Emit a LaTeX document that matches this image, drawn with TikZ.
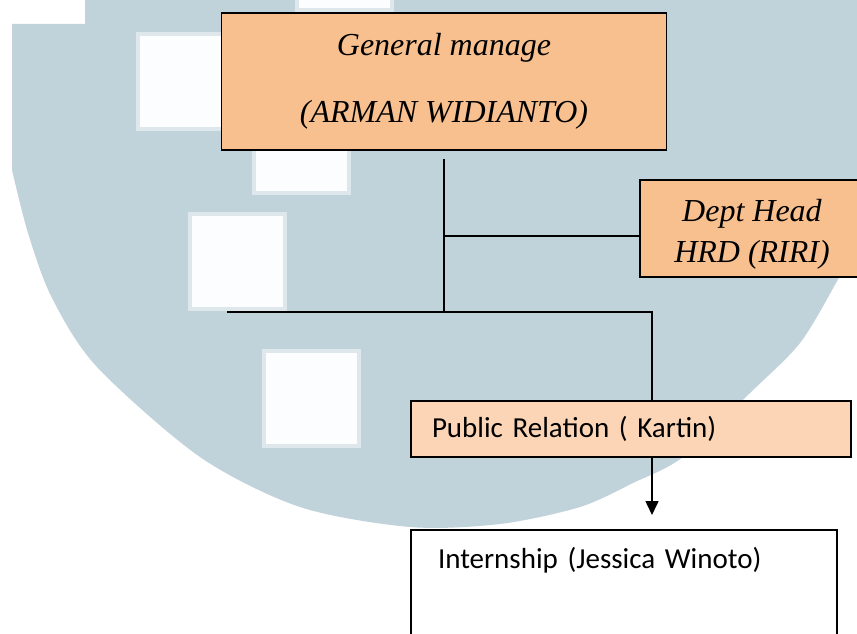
\documentclass[tikz,border=0pt]{standalone}
\usepackage{fontspec}
\setmainfont{Liberation Serif}
\newfontfamily\calibri{Carlito}
\usetikzlibrary{arrows.meta, shapes, positioning}

\definecolor{wmark}{RGB}{193,211,218}
\definecolor{wedge}{RGB}{222,232,236}
\definecolor{wspot}{RGB}{251,253,254}
\definecolor{gmfill}{RGB}{248,191,143}
\definecolor{prfill}{RGB}{251,213,181}

\tikzset{
  headbox/.style={draw, line width=1.8pt, fill=gmfill, font=\fontsize{32}{41}\selectfont\itshape, align=center, inner sep=0pt},
  staffbox/.style={draw, line width=1.8pt, font=\calibri\fontsize{29}{35}\selectfont, align=left, inner ysep=0pt},
  link/.style={line width=1.5pt},
  spot/.style={fill=wspot, draw=wedge, line width=4pt},
}

\begin{document}
\begin{tikzpicture}[x=1pt, y=-1pt]
          \clip (0,0) rectangle (857,634);
          \fill[white] (0,0) rectangle (857,634);

          % Watermark
          \fill[wmark] (85,0) -- (85,24) -- (12,24) -- (12,170) -- plot[smooth] coordinates {(12,170) (28,233) (52,298) (97,367) (200,457) (300,507) (410,527) (500,524) (580,507) (633,483) (683,457) (750,393) (800,343) (836,283) (857,243)} -- (857,0) -- cycle;
          \foreach \x/\y in {138/34, 254/98, 190/214, 264/351, 297/-85}
            \filldraw[spot] (\x,\y) rectangle ++(95,95);

          \node[headbox, minimum width=445pt, minimum height=137pt] (gm) at (444,81.5) {General manage\\[26pt](ARMAN WIDIANTO)};
          \node[headbox, minimum width=224pt, minimum height=97pt] (hrd) at (752,228.5) {\rule{0pt}{34pt}Dept Head\\HRD (RIRI)};
          \node[staffbox, fill=prfill, text width=398pt, inner xsep=21pt, minimum height=56pt] (pr) at (631,429) {Public Relation ( Kartin)};
          \node[staffbox, fill=white, anchor=north, text width=372pt, inner xsep=27pt, inner ysep=17pt, text depth=120pt] (intern) at (624,529) {Internship (Jessica Winoto)};

          \coordinate (branch) at (444,236);
          \coordinate (join) at (444,312);
          \coordinate (leftend) at (227,312);
          \coordinate (drop) at (652,312);

          % Edges
          \draw[link, shorten <=8pt] (gm.south) -- (join);
          \draw[link] (branch) -- (hrd.west |- branch);
          \draw[link] (leftend) -- (drop) -- (pr.north -| drop);
          \draw[link, -{Triangle[length=14pt, width=13pt]}, shorten >=14pt] (pr.south -| drop) -- (intern.north -| drop);
    \end{tikzpicture}
\end{document}
